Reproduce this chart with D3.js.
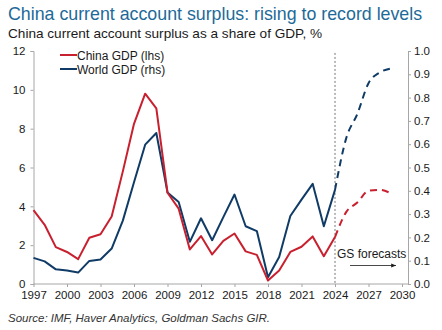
<!DOCTYPE html>
<html>
<head>
<meta charset="utf-8">
<script src="https://cdn.jsdelivr.net/npm/d3@7"></script>
<style>
  body { margin: 0; background: #fff; }
  svg { font-family: "Liberation Sans", Arial, sans-serif; }
</style>
</head>
<body>
<div id="chart"></div>
<script>
// years for the actual data and the forecast part
var years = d3.range(1997, 2025);
var fcYears = [2024, 2025, 2026, 2027, 2028, 2029];

// China current account surplus, % of China GDP (lhs)
var chinaGdp = [3.8, 3.05, 1.9, 1.65, 1.28, 2.38, 2.56, 3.48, 5.8, 8.25, 9.8, 9.05,
  4.7, 3.88, 1.78, 2.47, 1.52, 2.22, 2.6, 1.68, 1.5, 0.18, 0.7, 1.65, 1.92, 2.45, 1.43, 2.42];
var chinaFc = [2.42, 3.7, 4.2, 4.8, 4.85, 4.67];

// China current account surplus, % of World GDP (rhs)
var worldGdp = [0.112, 0.097, 0.063, 0.058, 0.049, 0.099, 0.105, 0.152, 0.272, 0.437, 0.598, 0.648,
  0.393, 0.352, 0.181, 0.282, 0.188, 0.287, 0.384, 0.248, 0.227, 0.029, 0.116, 0.292, 0.362, 0.43, 0.248, 0.404];
var worldFc = [0.404, 0.625, 0.73, 0.862, 0.908, 0.925];

var leftTicks = [0, 2, 4, 6, 8, 10, 12];
var rightTicks = [0, 0.1, 0.2, 0.3, 0.4, 0.5, 0.6, 0.7, 0.8, 0.9, 1.0];
var xTicks = [1997, 2000, 2003, 2006, 2009, 2012, 2015, 2018, 2021, 2024, 2027, 2030];

var svgWidth = 442, svgHeight = 330;
var red = "#c8202f", navy = "#0f3b66", grey = "#a6a6a6";

var svg = d3.select("#chart").append("svg")
  .attr("width", svgWidth)
  .attr("height", svgHeight);

// scales
var x = d3.scaleLinear().domain([1997, 2030]).range([33.5, 402]);
var yL = d3.scaleLinear().domain([0, 12]).range([284, 51]);
var yR = d3.scaleLinear().domain([0, 1]).range([284, 51]);

// titles
svg.append("text").attr("x", 8).attr("y", 20)
  .attr("fill", "#1d6a98").attr("font-size", 17.8)
  .text("China current account surplus: rising to record levels");
svg.append("text").attr("x", 8).attr("y", 38)
  .attr("fill", "#1a1a1a").attr("font-size", 13.6)
  .text("China current account surplus as a share of GDP, %");

// left axis
var leftAxis = svg.append("g").attr("transform", "translate(33.5,0)")
  .call(d3.axisLeft(yL).tickValues(leftTicks).tickSize(3).tickPadding(5));
// right axis
var rightAxis = svg.append("g").attr("transform", "translate(408,0)")
  .call(d3.axisRight(yR).tickValues(rightTicks).tickSize(3).tickPadding(3).tickFormat(d3.format(".1f")));
// bottom axis
var bottomAxis = svg.append("g").attr("transform", "translate(0,284)")
  .call(d3.axisBottom(x).tickValues(xTicks).tickSize(3).tickPadding(4).tickFormat(d3.format("d")));
bottomAxis.select(".domain").attr("d", "M33.5,0H408");

[leftAxis, rightAxis, bottomAxis].forEach(function(ax) {
  ax.selectAll(".domain").attr("stroke", grey);
  ax.selectAll(".tick line").attr("stroke", grey);
  ax.selectAll("text").attr("font-size", 11.5).attr("fill", "#1a1a1a")
    .attr("font-family", "Liberation Sans, Arial, sans-serif");
});

// forecast divider
svg.append("line")
  .attr("x1", x(2024)).attr("x2", x(2024))
  .attr("y1", yL(11.9)).attr("y2", yL(0))
  .attr("stroke", "#555").attr("stroke-width", 0.8)
  .attr("stroke-dasharray", "2,2");

// lines
var lineL = d3.line().x(function(d) { return x(d[0]); }).y(function(d) { return yL(d[1]); });
var lineR = d3.line().x(function(d) { return x(d[0]); }).y(function(d) { return yR(d[1]); });
var lineRc = d3.line().curve(d3.curveMonotoneX).x(function(d) { return x(d[0]); }).y(function(d) { return yR(d[1]); });
var lineLc = d3.line().curve(d3.curveMonotoneX).x(function(d) { return x(d[0]); }).y(function(d) { return yL(d[1]); });

svg.append("path").datum(d3.zip(years, worldGdp))
  .attr("fill", "none").attr("stroke", navy).attr("stroke-width", 2)
  .attr("stroke-linejoin", "round").attr("d", lineR);
svg.append("path").datum(d3.zip(years, chinaGdp))
  .attr("fill", "none").attr("stroke", red).attr("stroke-width", 2)
  .attr("stroke-linejoin", "round").attr("d", lineL);

svg.append("path").datum(d3.zip(fcYears, worldFc))
  .attr("fill", "none").attr("stroke", navy).attr("stroke-width", 2)
  .attr("stroke-dasharray", "7,5").attr("d", lineRc);
svg.append("path").datum(d3.zip(fcYears, chinaFc))
  .attr("fill", "none").attr("stroke", red).attr("stroke-width", 2)
  .attr("stroke-dasharray", "7,5").attr("d", lineLc);

// legend
var legend = [["China GDP (lhs)", red], ["World GDP (rhs)", navy]];
legend.forEach(function(l, i) {
  var ly = 55 + i * 14;
  svg.append("line").attr("x1", 60).attr("x2", 77).attr("y1", ly).attr("y2", ly)
    .attr("stroke", l[1]).attr("stroke-width", 2);
  svg.append("text").attr("x", 77).attr("y", ly + 4.5)
    .attr("font-size", 12).attr("fill", "#1a1a1a").text(l[0]);
});

// GS forecasts note + arrow
svg.append("defs").append("marker")
  .attr("id", "arr").attr("viewBox", "0 0 10 10").attr("refX", 10).attr("refY", 5)
  .attr("markerWidth", 6).attr("markerHeight", 6).attr("orient", "auto")
  .append("path").attr("d", "M0,1L10,5L0,9Z").attr("fill", "#1a1a1a");
svg.append("text").attr("x", 337).attr("y", 258)
  .attr("font-size", 12).attr("fill", "#1a1a1a").text("GS forecasts");
svg.append("line").attr("x1", 350).attr("x2", 396).attr("y1", 265.5).attr("y2", 265.5)
  .attr("stroke", "#1a1a1a").attr("stroke-width", 0.8).attr("marker-end", "url(#arr)");

// source
svg.append("text").attr("x", 8).attr("y", 322)
  .attr("font-size", 11.5).attr("font-style", "italic").attr("fill", "#333")
  .text("Source: IMF, Haver Analytics, Goldman Sachs GIR.");
</script>
</body>
</html>
